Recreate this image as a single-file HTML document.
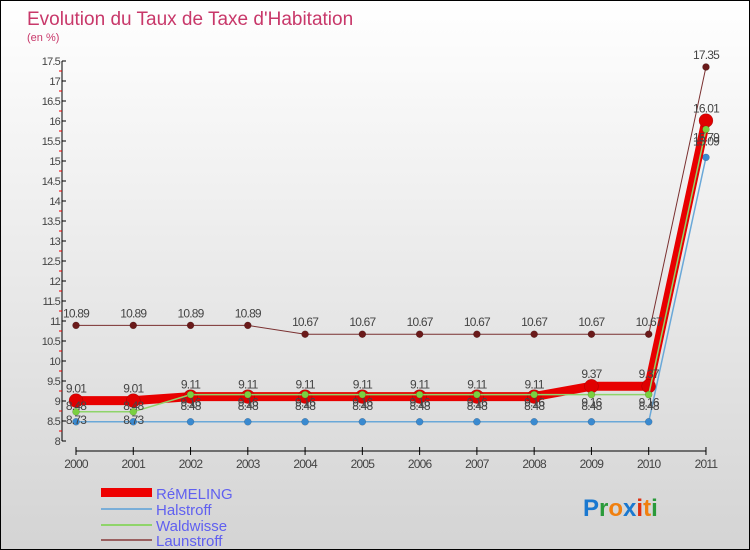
<!DOCTYPE html>
<html><head><meta charset="utf-8"><style>
body{margin:0}
#c{position:relative;width:748px;height:548px;border:1px solid #000;background:linear-gradient(#fff,#d4d4d4);font-family:"Liberation Sans",sans-serif;overflow:hidden}
</style></head><body>
<div id="c">
<svg id="s" width="748" height="548" style="position:absolute;left:0;top:0">
<text x="26" y="24" font-size="19" fill="#c8386a">Evolution du Taux de Taxe d'Habitation</text>
<text x="26" y="40" font-size="11" fill="#c8386a">(en %)</text>
<g id="ax"></g><g id="ser"></g><g id="lbl"></g>
<g>
<rect x="100" y="487" width="51" height="9" fill="#e00"/>
<text x="155" y="498" font-size="15" fill="#6060f0">RéMELING</text>
<line x1="100" y1="508" x2="151" y2="508" stroke="#7aaed8" stroke-width="2"/>
<text x="155" y="514" font-size="15" fill="#6060f0">Halstroff</text>
<line x1="100" y1="524" x2="151" y2="524" stroke="#8fd46a" stroke-width="2"/>
<text x="155" y="530" font-size="15" fill="#6060f0">Waldwisse</text>
<line x1="100" y1="539" x2="151" y2="539" stroke="#9a6060" stroke-width="2"/>
<text x="155" y="545" font-size="15" fill="#6060f0">Launstroff</text>
</g>
<text x="582" y="515" font-size="24" font-weight="bold"><tspan fill="#1a78d0">P</tspan><tspan fill="#2a9a3a">r</tspan><tspan fill="#f08010">o</tspan><tspan fill="#1a78d0">x</tspan><tspan fill="#e03010">i</tspan><tspan fill="#f08010">t</tspan><tspan fill="#2a9a3a">i</tspan></text>
</svg>
</div>
<script>
const years=["2000","2001","2002","2003","2004","2005","2006","2007","2008","2009","2010","2011"];
const remeling=[9.01,9.01,9.11,9.11,9.11,9.11,9.11,9.11,9.11,9.37,9.37,16.01];
const halstroff=[8.48,8.48,8.48,8.48,8.48,8.48,8.48,8.48,8.48,8.48,8.48,15.09];
const waldwisse=[8.73,8.73,9.16,9.16,9.16,9.16,9.16,9.16,9.16,9.16,9.16,15.79];
const launstroff=[10.89,10.89,10.89,10.89,10.67,10.67,10.67,10.67,10.67,10.67,10.67,17.35];
const yTicks=[8,8.5,9,9.5,10,10.5,11,11.5,12,12.5,13,13.5,14,14.5,15,15.5,16,16.5,17,17.5];
const NS="http://www.w3.org/2000/svg";
const X=i=>75+i*57.27, Y=v=>440-(v-8)*40;
function mk(p,t,a){const e=document.createElementNS(NS,t);for(const k in a)e.setAttribute(k,a[k]);p.appendChild(e);return e;}
const ax=document.getElementById('ax'),ser=document.getElementById('ser'),lbl=document.getElementById('lbl');
let l=mk(ax,'line',{x1:61,y1:Y(17.5),x2:61,y2:Y(8),stroke:'#000'});


yTicks.forEach(v=>{
 mk(ax,'line',{x1:61,y1:Y(v),x2:65,y2:Y(v),stroke:'#000'});
 mk(ax,'line',{x1:58,y1:Y(v+0.25),x2:61,y2:Y(v+0.25),stroke:v<17.5?'#e00':'none'});
 const t=mk(ax,'text',{x:59,y:Y(v)+4,'font-size':11,fill:'#444','text-anchor':'end','letter-spacing':'-0.8'});
 t.textContent=String(v);
 
 
});
l=mk(ax,'line',{x1:75,y1:450,x2:X(11),y2:450,stroke:'#000'});


years.forEach((y,i)=>{
 mk(ax,'line',{x1:X(i),y1:446,x2:X(i),y2:454,stroke:'#000'});
 const t=mk(ax,'text',{x:X(i),y:467,'font-size':12,fill:'#444','text-anchor':'middle','letter-spacing':'-0.8'});
 t.textContent=y;
 
 
});
function series(name,data,color,w,r,dot,dy){
 const p=mk(ser,'polyline',{points:data.map((v,i)=>X(i)+','+Y(v)).join(' '),fill:'none',stroke:color,'stroke-width':w});
 
 
 data.forEach((v,i)=>{
  const c=mk(ser,'circle',{cx:X(i),cy:Y(v),r:r,fill:dot,stroke:'#0004','stroke-width':0.5});
  
  
  const t=mk(lbl,'text',{x:X(i),y:Y(v)+dy,'font-size':12,fill:'#444','text-anchor':'middle','letter-spacing':'-0.8'});
  t.textContent=v.toFixed(2).replace(/0$/,'');
  
  
 });
}
series('launstroff',launstroff,'#7a3030',1,3.5,'#6a1a1a',-8);
series('halstroff',halstroff,'#6aa8d8',1.5,3.5,'#3a8ad0',-12);
series('remeling',remeling,'#e80000',9,7,'#e00000',-8);
series('waldwisse',waldwisse,'#8fd46a',1.5,3.5,'#7ad040',12);
</script>
</body></html>
